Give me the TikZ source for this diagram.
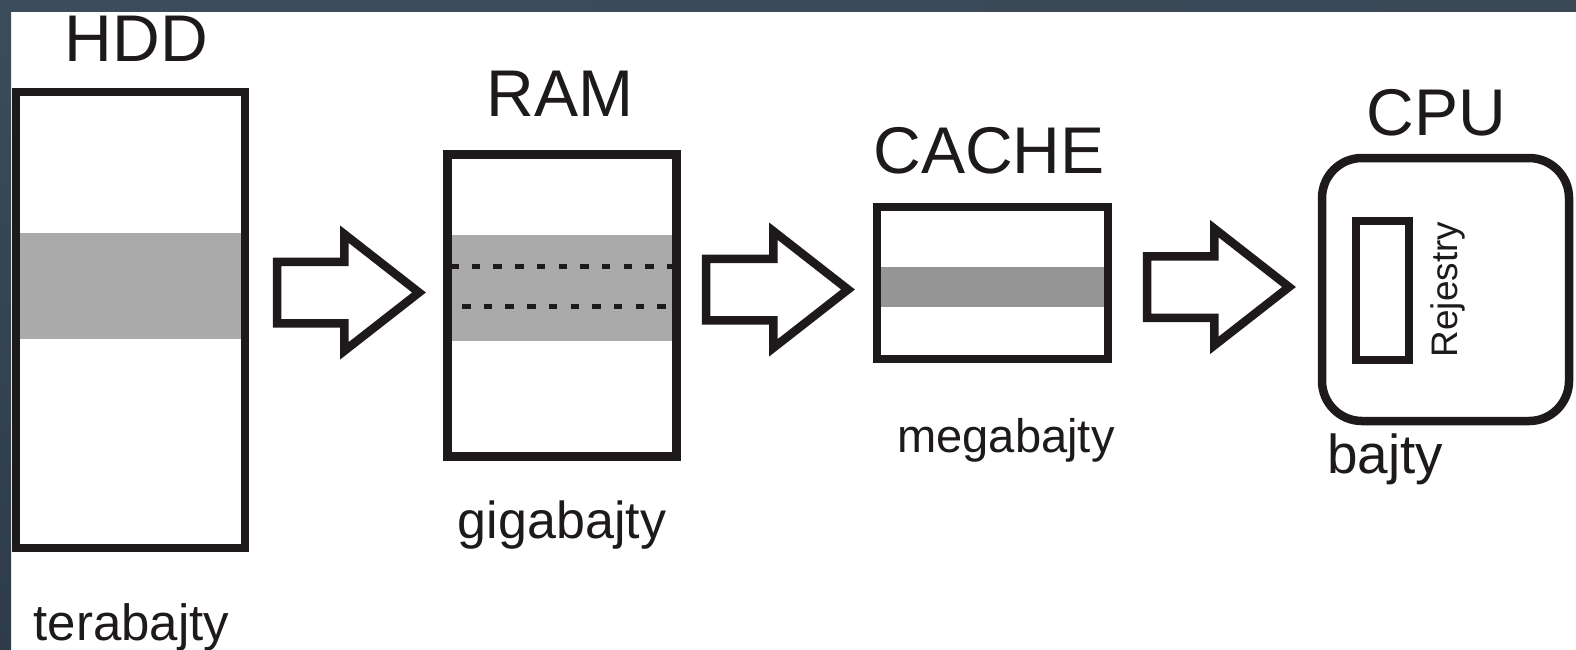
\documentclass[tikz,border=0pt]{standalone}
\usepackage{fontspec}
\setmainfont{Liberation Sans}
\usetikzlibrary{shapes.arrows}

\definecolor{ink}{HTML}{1E1A1B}
\definecolor{lightband}{HTML}{AAAAAA}
\definecolor{darkband}{HTML}{959595}
\definecolor{frameA}{HTML}{3C4C5A}
\definecolor{frameB}{HTML}{6E7D88}
\definecolor{frameC}{HTML}{3A4856}
\definecolor{frameD}{HTML}{2E3C49}

\begin{document}
\begin{tikzpicture}[
  y=-1cm,
  box/.style={draw=ink, line width=0.085cm, inner sep=0pt, outer sep=0pt},
  title/.style={anchor=base, font=\fontsize{18.8}{22}\selectfont, text=ink},
  sizelabel/.style={anchor=base, font=\fontsize{#1}{#1}\selectfont, text=ink},
  bigarrow/.style={single arrow, draw=ink, line width=0.085cm, fill=white,
    inner xsep=0pt, inner ysep=0.265cm, outer sep=0pt,
    single arrow head extend=0.275cm, single arrow tip angle=76,
    minimum height=1.42cm, anchor=tail},
  dashline/.style={ink, line width=0.05cm, dash pattern=on 0.085cm off 0.132cm}
]
% frame
\useasboundingbox (0,0) rectangle (15.76,6.49);
\fill[white] (0,0) rectangle (15.76,6.49);
\shade[top color=frameA, bottom color=frameD] (0,0) rectangle (0.11,6.49);
\shade[left color=frameA, middle color=frameB, right color=frameC] (0,0) rectangle (15.76,0.11);

% grey bands under the boxes
\fill[lightband] (0.16,2.33) rectangle (2.45,3.39);
\fill[lightband] (4.475,2.35) rectangle (6.765,3.41);
\fill[darkband] (8.77,2.67) rectangle (11.08,3.07);

% memory levels
\node[box, minimum width=2.29cm, minimum height=4.56cm] (hdd) at (1.305,3.20) {};
\node[box, minimum width=2.29cm, minimum height=3.02cm] (ram) at (5.62,3.055) {};
\node[box, minimum width=2.31cm, minimum height=1.52cm] (cache) at (9.925,2.83) {};
\node[box, rounded corners=0.4cm, minimum width=2.47cm, minimum height=2.63cm] (cpu) at (14.455,2.895) {};
\node[box, minimum width=0.53cm, minimum height=1.39cm] (reg) at (13.825,2.905) {};

\draw[dashline] (4.50,2.66) -- (6.75,2.66);
\draw[dashline] (4.62,3.06) -- (6.75,3.06);

% transfer arrows
\node[bigarrow] (a1) at (2.77,2.925) {};
\node[bigarrow] (a2) at (7.06,2.895) {};
\node[bigarrow] (a3) at (11.47,2.87) {};

% names
\node[title] (hddname) at (1.365,0.61) {HDD};
\node[title] (ramname) at (5.60,1.16) {RAM};
\node[title] (cachename) at (9.89,1.73) {CACHE};
\node[title] (cpuname) at (14.365,1.35) {CPU};
\node[sizelabel=10.5, rotate=90] (regname) at (14.57,2.895) {Rejestry};

% sizes
\node[sizelabel=14.5] (hddsize) at (1.315,6.40) {terabajty};
\node[sizelabel=14.8] (ramsize) at (5.62,5.38) {gigabajty};
\node[sizelabel=13.4] (cachesize) at (10.06,4.52) {megabajty};
\node[sizelabel=15.6] (cpusize) at (13.85,4.73) {bajty};
\end{tikzpicture}
\end{document}
